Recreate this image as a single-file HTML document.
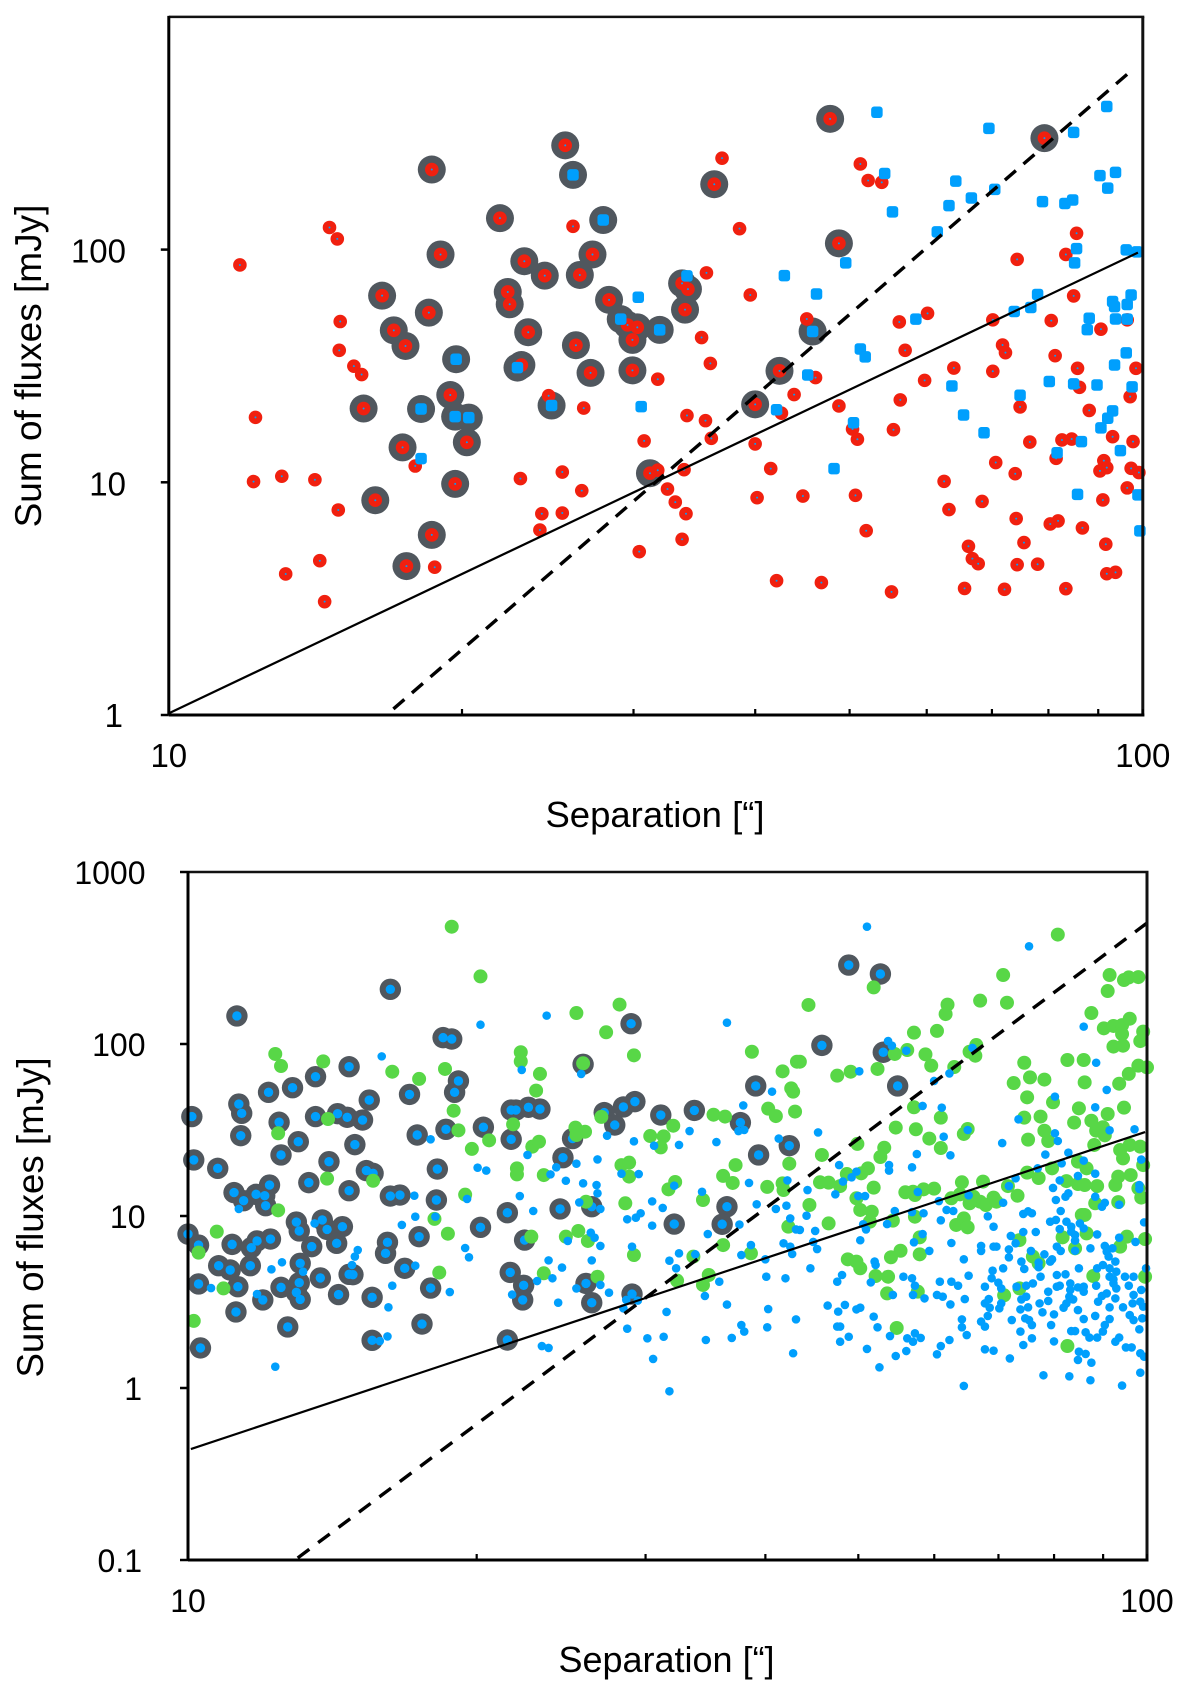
<!DOCTYPE html>
<html lang="en">
<head>
<meta charset="utf-8">
<title>Sum of fluxes versus separation</title>
<style>
html,body{margin:0;padding:0;background:#fff}
svg{display:block}
text{font-family:"Liberation Sans",sans-serif;fill:#000}
</style>
</head>
<body>
<svg id="figure" xmlns="http://www.w3.org/2000/svg" width="1200" height="1692" viewBox="0 0 1200 1692">
<g id="top-chart"></g>
<g id="bottom-chart"></g>
<text x="655" y="827" font-size="36.5" text-anchor="middle">Separation [“]</text>
<text transform="translate(41 366) rotate(-90)" font-size="37" text-anchor="middle">Sum of fluxes [mJy]</text>
<text x="666.5" y="1672" font-size="36" text-anchor="middle">Separation [“]</text>
<text transform="translate(43 1217.5) rotate(-90)" font-size="36.7" text-anchor="middle">Sum of fluxes [mJy]</text>
</svg>
<script>
// All point values are [log10 separation (arcsec), log10 flux sum (mJy)].
const topRingRed=[[1.407,2.448],[1.270,2.344],[1.340,2.135],[1.279,1.979],[1.365,1.950],[1.386,1.888],[1.422,1.891],[1.435,1.979],[1.219,1.802],[1.348,1.818],[1.350,1.765],[1.267,1.729],[1.231,1.653],[1.243,1.586],[1.369,1.645],[1.418,1.589],[1.433,1.470],[1.289,1.375],[1.200,1.317],[1.362,1.504],[1.240,1.150],[1.306,1.172],[1.294,0.993],[1.212,0.923],[1.270,0.774],[1.244,0.640],[1.679,2.562],[1.560,2.281],[1.688,2.027],[1.452,1.784],[1.476,1.612],[1.476,1.481],[1.530,1.742],[1.527,1.855],[1.533,1.830],[1.627,1.479],[1.602,1.335],[1.899,2.479],[1.494,1.039],[1.471,1.676],[1.481,1.666]];
const topRingBlue=[[1.415,2.321],[1.446,2.127],[1.295,1.529],[1.358,1.493],[1.393,1.330],[1.259,1.315],[1.294,1.282],[1.308,1.278],[1.464,1.701],[1.504,1.655],[1.661,1.648]];
const topRed=[[1.073,1.934],[1.165,2.095],[1.173,2.046],[1.176,1.691],[1.175,1.567],[1.190,1.499],[1.198,1.463],[1.089,1.279],[1.415,2.100],[1.390,1.372],[1.426,1.319],[1.087,1.003],[1.116,1.026],[1.150,1.011],[1.174,0.881],[1.155,0.663],[1.120,0.606],[1.160,0.487],[1.273,0.635],[1.253,1.070],[1.361,1.016],[1.404,1.044],[1.424,0.964],[1.383,0.865],[1.404,0.868],[1.381,0.795],[1.568,2.393],[1.586,2.090],[1.597,1.805],[1.552,1.900],[1.547,1.622],[1.556,1.511],[1.502,1.443],[1.710,2.368],[1.718,2.297],[1.732,2.289],[1.779,1.726],[1.750,1.689],[1.756,1.567],[1.655,1.702],[1.664,1.450],[1.642,1.377],[1.688,1.328],[1.629,1.297],[1.532,1.287],[1.551,1.265],[1.751,1.354],[1.776,1.438],[1.806,1.491],[1.846,1.698],[1.846,1.477],[1.856,1.590],[1.859,1.557],[1.871,1.958],[1.929,1.801],[1.906,1.695],[1.910,1.544],[1.933,1.490],[1.935,1.408],[1.957,1.658],[1.984,1.698],[1.993,1.490],[1.987,1.368],[1.945,1.309],[1.874,1.324],[1.932,2.070],[1.921,1.979],[1.488,1.178],[1.557,1.189],[1.602,1.165],[1.618,1.059],[1.604,0.934],[1.651,0.941],[1.705,0.944],[1.716,0.792],[1.512,0.971],[1.520,0.915],[1.531,0.865],[1.527,0.755],[1.483,0.702],[1.529,1.054],[1.502,1.052],[1.702,1.229],[1.707,1.185],[1.744,1.226],[1.884,1.173],[1.917,1.182],[1.927,1.186],[1.911,1.103],[1.969,1.196],[1.990,1.175],[1.849,1.085],[1.869,1.037],[1.796,1.004],[1.801,0.883],[1.835,0.918],[1.870,0.844],[1.905,0.821],[1.913,0.834],[1.938,0.804],[1.878,0.741],[1.821,0.725],[1.825,0.672],[1.831,0.650],[1.871,0.646],[1.892,0.648],[1.817,0.544],[1.858,0.540],[1.921,0.543],[1.962,0.734],[1.963,0.607],[1.972,0.613],[1.959,0.924],[1.984,0.976],[1.988,1.060],[1.996,1.042],[1.960,1.093],[1.963,1.063],[1.956,1.049],[1.624,0.577],[1.670,0.569],[1.742,0.529]];
const topBlue=[[1.727,2.590],[1.842,2.521],[1.929,2.504],[1.963,2.615],[1.735,2.327],[1.808,2.294],[1.824,2.222],[1.848,2.259],[1.801,2.189],[1.743,2.162],[1.789,2.076],[1.897,2.206],[1.920,2.198],[1.928,2.213],[1.956,2.318],[1.972,2.332],[1.964,2.264],[1.932,2.004],[1.930,1.943],[1.983,1.999],[1.994,1.990],[1.695,1.943],[1.632,1.888],[1.665,1.809],[1.532,1.887],[1.482,1.795],[1.767,1.701],[1.892,1.807],[1.868,1.734],[1.885,1.751],[1.988,1.805],[1.969,1.777],[1.971,1.755],[1.984,1.764],[1.945,1.705],[1.943,1.656],[1.972,1.702],[1.984,1.701],[1.710,1.573],[1.715,1.539],[1.983,1.556],[1.971,1.504],[1.656,1.461],[1.804,1.414],[1.904,1.433],[1.929,1.423],[1.953,1.418],[1.989,1.410],[1.874,1.374],[1.485,1.325],[1.624,1.312],[1.816,1.289],[1.969,1.307],[1.964,1.275],[1.703,1.256],[1.683,1.059],[1.837,1.213],[1.937,1.175],[1.912,1.127],[1.933,0.948],[1.977,1.136],[1.995,0.946],[1.997,0.791],[1.957,1.234],[1.259,1.102]];
const topSolidLine=[[1.001,0.009],[1.995,1.987]];
const topDashedLine=[[1.2306,0.026],[1.9869,2.764]];
const topXTicks=[10,20,30,40,50,60,70,80,90,100];
const topXLabels=[[10,"10"],[100,"100"]];
const topYTicks=[1,10,100];
const topYLabels=[[1,"1"],[10,"10"],[100,"100"]];

const bottomRing=[[1.004,1.578],[1.051,2.163],[1.211,2.318],[1.053,1.651],[1.056,1.597],[1.084,1.719],[1.109,1.746],[1.133,1.810],[1.168,1.868],[1.189,1.674],[1.133,1.578],[1.156,1.595],[1.166,1.574],[1.182,1.558],[1.055,1.467],[1.095,1.545],[1.115,1.432],[1.174,1.415],[1.097,1.355],[1.006,1.326],[1.031,1.277],[1.147,1.316],[1.186,1.264],[1.193,1.248],[1.126,1.194],[1.168,1.147],[1.048,1.136],[1.058,1.089],[1.071,1.126],[1.080,1.118],[1.085,1.180],[1.081,1.060],[1.211,1.116],[1.113,0.965],[1.116,0.913],[1.140,0.977],[1.145,0.922],[1.161,0.938],[1.155,0.841],[1.129,0.822],[1.000,0.895],[1.011,0.831],[1.046,0.835],[1.066,0.816],[1.072,0.855],[1.086,0.866],[1.208,0.847],[1.206,0.783],[1.032,0.711],[1.044,0.686],[1.065,0.711],[1.117,0.725],[1.168,0.661],[1.011,0.605],[1.097,0.585],[1.116,0.612],[1.113,0.556],[1.117,0.515],[1.078,0.512],[1.050,0.442],[1.138,0.640],[1.157,0.543],[1.192,0.527],[1.104,0.355],[1.013,0.233],[1.192,0.277],[1.052,0.589],[1.172,0.659],[1.266,2.037],[1.275,2.029],[1.282,1.785],[1.278,1.719],[1.231,1.707],[1.239,1.471],[1.269,1.504],[1.308,1.516],[1.337,1.446],[1.260,1.273],[1.259,1.093],[1.333,1.019],[1.305,0.934],[1.241,0.880],[1.226,0.696],[1.336,0.672],[1.351,0.860],[1.388,1.041],[1.421,1.054],[1.337,1.616],[1.342,1.616],[1.355,1.632],[1.367,1.622],[1.462,2.118],[1.412,1.882],[1.434,1.601],[1.454,1.634],[1.466,1.665],[1.445,1.529],[1.493,1.587],[1.528,1.614],[1.576,1.543],[1.592,1.756],[1.595,1.355],[1.627,1.409],[1.401,1.450],[1.391,1.339],[1.562,1.054],[1.557,0.952],[1.507,0.953],[1.221,1.122],[1.253,0.581],[1.244,0.372],[1.350,0.597],[1.349,0.512],[1.415,0.608],[1.421,0.496],[1.463,0.546],[1.333,0.279],[1.689,2.459],[1.722,2.407],[1.661,1.992],[1.725,1.952],[1.740,1.756]];
const bottomGreen=[[1.091,1.942],[1.097,1.872],[1.141,1.899],[1.213,1.839],[1.146,1.564],[1.094,1.481],[1.145,1.217],[1.193,1.205],[1.094,1.033],[1.030,0.909],[1.011,0.787],[1.037,0.579],[1.006,0.390],[1.275,2.682],[1.305,2.393],[1.405,2.180],[1.450,2.229],[1.436,2.068],[1.465,1.934],[1.588,1.955],[1.635,1.897],[1.347,1.952],[1.347,1.899],[1.367,1.826],[1.363,1.729],[1.268,1.855],[1.241,1.797],[1.277,1.612],[1.339,1.533],[1.282,1.498],[1.314,1.440],[1.296,1.390],[1.359,1.403],[1.366,1.432],[1.404,1.514],[1.414,1.490],[1.405,1.471],[1.431,1.576],[1.412,1.888],[1.548,1.589],[1.560,1.578],[1.506,1.525],[1.482,1.465],[1.496,1.463],[1.493,1.399],[1.620,1.841],[1.629,1.742],[1.631,1.723],[1.605,1.624],[1.613,1.581],[1.633,1.607],[1.627,1.304],[1.571,1.296],[1.558,1.233],[1.568,1.192],[1.604,1.169],[1.620,1.190],[1.621,1.151],[1.452,1.296],[1.460,1.310],[1.460,1.229],[1.343,1.277],[1.343,1.242],[1.371,1.238],[1.508,1.198],[1.501,1.155],[1.289,1.124],[1.415,1.083],[1.456,1.074],[1.537,1.093],[1.257,0.983],[1.271,0.897],[1.358,0.880],[1.407,0.913],[1.394,0.880],[1.417,0.855],[1.465,0.773],[1.558,0.831],[1.527,0.764],[1.587,0.783],[1.626,0.938],[1.262,0.671],[1.371,0.667],[1.427,0.647],[1.510,0.624],[1.543,0.657],[1.537,0.599],[1.907,2.636],[1.850,2.401],[1.961,2.401],[1.976,2.372],[1.981,2.387],[1.991,2.389],[1.959,2.308],[1.715,2.329],[1.647,2.227],[1.792,2.229],[1.790,2.174],[1.826,2.252],[1.854,2.240],[1.942,2.180],[1.757,2.066],[1.781,2.076],[1.955,2.091],[1.965,2.105],[1.974,2.110],[1.982,2.147],[1.974,2.058],[1.996,2.072],[1.993,2.017],[1.965,1.985],[1.975,1.990],[1.822,1.994],[1.815,1.955],[1.821,1.932],[1.750,1.965],[1.737,1.942],[1.769,1.940],[1.775,1.874],[1.799,1.866],[1.719,1.855],[1.691,1.839],[1.677,1.816],[1.638,1.897],[1.917,1.907],[1.934,1.907],[1.872,1.891],[1.878,1.806],[1.893,1.793],[1.861,1.773],[1.935,1.777],[1.971,1.769],[1.981,1.826],[1.991,1.874],[2.000,1.864],[1.875,1.690],[1.902,1.661],[1.757,1.632],[1.929,1.626],[1.976,1.630],[1.785,1.572],[1.872,1.572],[1.889,1.578],[1.959,1.593],[1.942,1.554],[1.924,1.543],[1.738,1.514],[1.759,1.504],[1.773,1.450],[1.809,1.477],[1.813,1.506],[1.893,1.496],[1.897,1.436],[1.876,1.444],[1.954,1.516],[1.947,1.496],[1.956,1.469],[1.785,1.395],[1.698,1.419],[1.726,1.397],[1.722,1.343],[1.661,1.355],[1.945,1.413],[1.972,1.384],[1.982,1.413],[1.993,1.403],[1.975,1.335],[1.996,1.296],[1.709,1.277],[1.702,1.248],[1.687,1.244],[1.659,1.196],[1.668,1.194],[1.680,1.174],[1.715,1.165],[1.928,1.316],[1.937,1.277],[1.901,1.277],[1.875,1.252],[1.887,1.221],[1.916,1.203],[1.928,1.186],[1.935,1.180],[1.948,1.174],[1.967,1.180],[1.970,1.229],[1.983,1.238],[1.991,1.161],[1.994,1.107],[1.946,1.074],[1.970,1.081],[1.807,1.196],[1.829,1.200],[1.855,1.174],[1.865,1.118],[1.840,1.107],[1.819,1.112],[1.826,1.083],[1.815,1.074],[1.832,1.064],[1.843,1.083],[1.796,1.103],[1.805,1.126],[1.748,1.138],[1.756,1.141],[1.758,1.122],[1.767,1.155],[1.778,1.159],[1.697,1.103],[1.701,1.035],[1.713,1.025],[1.711,0.967],[1.758,0.996],[1.735,0.973],[1.668,0.957],[1.648,1.064],[1.801,0.948],[1.809,0.986],[1.813,0.934],[1.932,1.006],[1.935,1.006],[1.867,0.860],[1.912,0.876],[1.937,0.899],[1.763,0.876],[1.972,0.822],[1.979,0.880],[1.998,0.866],[1.925,0.812],[1.763,0.777],[1.743,0.798],[1.733,0.760],[1.688,0.748],[1.697,0.735],[1.701,0.696],[1.717,0.651],[1.730,0.647],[1.881,0.764],[1.887,0.725],[1.944,0.651],[1.998,0.647],[1.729,0.550],[1.761,0.560],[1.851,0.539],[1.867,0.579],[1.739,0.349],[1.917,0.244]];
const bottomBlue=[[1.202,1.928],[1.053,1.041],[1.132,0.957],[1.177,0.802],[1.174,0.764],[1.171,0.715],[1.098,0.731],[1.087,0.690],[1.223,0.948],[1.024,0.581],[1.072,0.546],[1.213,0.595],[1.209,0.469],[1.208,0.300],[1.200,0.273],[1.091,0.124],[1.120,0.676],[1.305,2.112],[1.374,2.165],[1.562,2.124],[1.348,1.849],[1.410,1.826],[1.253,1.446],[1.437,1.467],[1.465,1.434],[1.512,1.413],[1.523,1.494],[1.551,1.430],[1.486,1.409],[1.579,1.643],[1.609,1.723],[1.616,1.450],[1.574,1.494],[1.580,1.500],[1.354,1.355],[1.302,1.281],[1.311,1.264],[1.384,1.283],[1.378,1.242],[1.405,1.304],[1.427,1.329],[1.394,1.205],[1.412,1.190],[1.426,1.180],[1.427,1.132],[1.452,1.246],[1.470,1.244],[1.585,1.192],[1.625,1.207],[1.507,1.176],[1.536,1.141],[1.236,1.118],[1.346,1.116],[1.291,1.099],[1.408,1.079],[1.430,1.041],[1.484,1.085],[1.495,1.047],[1.472,1.016],[1.467,0.990],[1.458,0.981],[1.484,0.944],[1.593,1.068],[1.613,1.041],[1.624,1.060],[1.628,0.986],[1.634,0.922],[1.575,0.950],[1.542,0.895],[1.237,0.996],[1.258,0.996],[1.360,1.029],[1.420,0.903],[1.424,0.874],[1.430,0.826],[1.463,0.822],[1.289,0.814],[1.293,0.760],[1.376,0.742],[1.421,0.742],[1.390,0.700],[1.396,0.855],[1.512,0.783],[1.502,0.740],[1.509,0.696],[1.529,0.777],[1.577,0.773],[1.587,0.831],[1.621,0.841],[1.628,0.822],[1.630,0.779],[1.602,0.748],[1.237,0.711],[1.273,0.558],[1.338,0.543],[1.380,0.638],[1.364,0.622],[1.386,0.496],[1.405,0.579],[1.430,0.599],[1.439,0.554],[1.457,0.512],[1.454,0.463],[1.469,0.508],[1.458,0.345],[1.479,0.289],[1.496,0.298],[1.499,0.442],[1.485,0.169],[1.502,-0.019],[1.369,0.244],[1.376,0.233],[1.554,0.618],[1.539,0.535],[1.562,0.485],[1.540,0.279],[1.567,0.291],[1.577,0.366],[1.580,0.328],[1.603,0.647],[1.623,0.638],[1.605,0.459],[1.604,0.353],[1.634,0.399],[1.631,0.202],[1.708,2.682],[1.877,2.568],[1.934,2.101],[1.947,1.891],[1.730,2.017],[1.734,1.990],[1.749,1.961],[1.818,1.977],[1.794,1.829],[1.778,1.785],[1.700,1.841],[1.958,1.733],[1.904,1.694],[1.946,1.632],[1.766,1.640],[1.786,1.630],[1.866,1.562],[1.987,1.504],[1.961,1.498],[1.813,1.500],[1.904,1.481],[1.907,1.436],[1.849,1.424],[1.788,1.461],[1.657,1.486],[1.760,1.360],[1.795,1.353],[1.894,1.357],[1.918,1.368],[1.994,1.328],[1.679,1.296],[1.731,1.296],[1.731,1.264],[1.755,1.283],[1.697,1.258],[1.692,1.225],[1.683,1.200],[1.911,1.306],[1.934,1.322],[1.886,1.277],[1.863,1.219],[1.946,1.246],[1.928,1.233],[1.909,1.207],[1.902,1.163],[1.856,1.174],[1.992,1.180],[1.992,1.157],[1.646,1.151],[1.675,1.126],[1.699,1.116],[1.706,1.116],[1.761,1.140],[1.814,1.120],[1.946,1.112],[1.918,1.132],[1.915,1.112],[1.905,1.093],[1.956,1.077],[1.953,1.054],[1.971,1.066],[1.850,1.077],[1.783,1.087],[1.737,1.029],[1.755,1.023],[1.767,1.016],[1.791,1.035],[1.798,1.029],[1.910,1.029],[1.871,1.012],[1.876,1.027],[1.880,1.016],[1.834,0.998],[1.785,0.975],[1.645,1.002],[1.704,0.952],[1.729,0.953],[1.707,0.922],[1.840,0.938],[1.899,0.967],[1.905,0.977],[1.916,0.967],[1.909,0.924],[1.921,0.938],[1.921,0.909],[1.930,0.957],[1.934,0.928],[1.997,0.963],[1.654,0.913],[1.638,0.919],[1.871,0.907],[1.884,0.907],[1.948,0.893],[1.858,0.884],[1.863,0.841],[1.925,0.889],[1.925,0.857],[1.766,0.895],[1.701,0.859],[1.757,0.847],[1.796,0.843],[1.652,0.849],[1.656,0.808],[1.971,0.874],[1.988,0.849],[1.827,0.826],[1.827,0.797],[1.840,0.822],[1.843,0.822],[1.856,0.806],[1.856,0.760],[1.773,0.797],[1.809,0.748],[1.879,0.797],[1.893,0.777],[1.906,0.822],[1.910,0.797],[1.925,0.798],[1.941,0.812],[1.956,0.826],[1.964,0.812],[1.958,0.793],[1.960,0.764],[1.967,0.735],[1.901,0.748],[1.899,0.735],[1.869,0.735],[1.887,0.729],[1.887,0.702],[1.716,0.735],[1.717,0.715],[1.649,0.696],[1.850,0.696],[1.872,0.692],[1.929,0.696],[1.948,0.696],[1.954,0.715],[1.961,0.696],[1.968,0.676],[1.999,0.696],[1.839,0.682],[1.682,0.657],[1.746,0.647],[1.755,0.638],[1.814,0.653],[1.838,0.638],[1.889,0.647],[1.906,0.657],[1.915,0.661],[1.986,0.647],[1.977,0.647],[1.961,0.647],[1.965,0.632],[1.677,0.618],[1.667,0.479],[1.685,0.483],[1.678,0.444],[1.697,0.457],[1.701,0.467],[1.715,0.415],[1.719,0.353],[1.677,0.357],[1.680,0.357],[1.689,0.298],[1.680,0.269],[1.712,0.614],[1.758,0.595],[1.735,0.541],[1.756,0.541],[1.768,0.521],[1.784,0.618],[1.796,0.618],[1.803,0.595],[1.831,0.589],[1.845,0.612],[1.848,0.579],[1.781,0.541],[1.787,0.531],[1.795,0.486],[1.810,0.517],[1.835,0.517],[1.831,0.492],[1.836,0.467],[1.848,0.492],[1.846,0.463],[1.834,0.419],[1.807,0.399],[1.807,0.353],[1.812,0.308],[1.827,0.386],[1.831,0.357],[1.859,0.395],[1.868,0.328],[1.880,0.289],[1.871,0.250],[1.831,0.225],[1.840,0.217],[1.857,0.172],[1.794,0.279],[1.785,0.244],[1.781,0.196],[1.732,0.302],[1.708,0.227],[1.750,0.289],[1.756,0.269],[1.758,0.318],[1.764,0.291],[1.749,0.215],[1.738,0.186],[1.721,0.120],[1.809,0.012],[1.892,0.074],[1.919,0.068],[1.941,0.045],[1.974,0.014],[1.993,0.089],[1.993,0.202],[1.997,0.182],[1.942,0.147],[1.928,0.163],[1.936,0.198],[1.929,0.211],[1.903,0.271],[1.921,0.331],[1.925,0.331],[1.936,0.324],[1.940,0.293],[1.948,0.293],[1.954,0.328],[1.956,0.366],[1.961,0.401],[1.934,0.401],[1.946,0.419],[1.900,0.366],[1.903,0.428],[1.891,0.440],[1.888,0.492],[1.897,0.506],[1.876,0.469],[1.868,0.457],[1.873,0.405],[1.877,0.395],[1.880,0.366],[1.913,0.467],[1.916,0.492],[1.923,0.515],[1.928,0.453],[1.949,0.502],[1.961,0.469],[1.953,0.535],[1.958,0.550],[1.967,0.521],[1.975,0.469],[1.985,0.492],[1.996,0.473],[1.995,0.405],[1.986,0.395],[1.982,0.424],[1.992,0.341],[1.967,0.269],[1.971,0.293],[1.978,0.236],[1.984,0.236],[1.869,0.515],[1.874,0.531],[1.864,0.589],[1.874,0.595],[1.881,0.608],[1.897,0.560],[1.906,0.589],[1.909,0.595],[1.920,0.608],[1.920,0.570],[1.919,0.531],[1.928,0.585],[1.934,0.589],[1.934,0.560],[1.947,0.595],[1.965,0.608],[1.968,0.579],[1.981,0.595],[1.994,0.570],[1.986,0.541],[1.993,0.502]];
const bottomSolidLine=[[1.003,-0.355],[1.998,1.488]];
const bottomDashedLine=[[1.1144,-0.988],[1.9997,2.702]];
const bottomXTicks=[10,20,30,40,50,60,70,80,90,100];
const bottomXLabels=[[10,"10"],[100,"100"]];
const bottomYTicks=[0.1,1,10,100,1000];
const bottomYLabels=[[0.1,"0.1"],[1,"1"],[10,"10"],[100,"100"],[1000,"1000"]];

const NS='http://www.w3.org/2000/svg';
const GRAY='#50575e',RED='#f0200f',BLUE='#009ffd',GREEN='#58d747';

// Axis functions: log10 values to pixels.
const topX=d=>168.8+(d-1)*974;
const topY=d=>715-d*232.7;
const bottomX=d=>188+(d-1)*959;
const bottomY=d=>1388-d*172;

function make(parent,tag,attrs,name){
  const el=document.createElementNS(NS,tag);
  for(const k in attrs){el.setAttribute(k,attrs[k]);}
  
  
  parent.appendChild(el);
  return el;
}
function dots(parent,points,sx,sy,r,fill,name){
  points.forEach(p=>{make(parent,'circle',{cx:sx(p[0]),cy:sy(p[1]),r:r,fill:fill},name);});
}
function squares(parent,points,sx,sy,size,fill,name){
  points.forEach(p=>{make(parent,'rect',{x:sx(p[0])-size/2,y:sy(p[1])-size/2,width:size,height:size,rx:3,fill:fill},name);});
}
function trend(parent,pts,sx,sy,width,dash,name){
  const a={x1:sx(pts[0][0]),y1:sy(pts[0][1]),x2:sx(pts[1][0]),y2:sy(pts[1][1]),stroke:'#000','stroke-width':width};
  if(dash){a['stroke-dasharray']=dash;}
  make(parent,'line',a,name);
}
function frame(parent,sx,sy,xTicks,yTicks,xMin,xMax,yMin,yMax,prefix){
  const L=sx(Math.log10(xMin)),R=sx(Math.log10(xMax)),T=sy(Math.log10(yMax)),B=sy(Math.log10(yMin));
  make(parent,'line',{x1:L,y1:T,x2:R+1.5,y2:T,stroke:'#111','stroke-width':2.5},prefix+'-top-border');
  make(parent,'line',{x1:R,y1:T,x2:R,y2:B+1.5,stroke:'#111','stroke-width':3},prefix+'-right-border');
  make(parent,'line',{x1:L,y1:T-1,x2:L,y2:B,stroke:'#000','stroke-width':3},prefix+'-y-axis-line');
  make(parent,'line',{x1:L,y1:B,x2:R+1.5,y2:B,stroke:'#000','stroke-width':3},prefix+'-x-axis-line');
  xTicks.forEach(v=>{const x=sx(Math.log10(v));make(parent,'line',{x1:x,y1:B,x2:x,y2:B-6,stroke:'#000','stroke-width':2.2},prefix+'-x-tick');});
  yTicks.forEach(v=>{const y=sy(Math.log10(v));make(parent,'line',{x1:L-8,y1:y,x2:L,y2:y,stroke:'#000','stroke-width':2.5},prefix+'-y-tick');});
}
function labels(parent,list,fn,size,name){
  list.forEach(item=>{
    const p=fn(item[0]);
    const el=make(parent,'text',{x:p[0],y:p[1],'font-size':size,'text-anchor':p[2]},name);
    el.textContent=item[1];
  });
}

const topGroup=document.getElementById('top-chart');
dots(topGroup,topRingRed,topX,topY,14,GRAY,'top-ring');
dots(topGroup,topRingBlue,topX,topY,14,GRAY,'top-ring');
dots(topGroup,topRed,topX,topY,6.8,RED,'red-source');
dots(topGroup,topRingRed,topX,topY,6.8,RED,'ringed-red-source');
dots(topGroup,topRed,topX,topY,1,BLUE,'red-source-centre');
dots(topGroup,topRingRed,topX,topY,1,BLUE,'ringed-red-source-centre');
squares(topGroup,topBlue,topX,topY,11.5,BLUE,'blue-source');
squares(topGroup,topRingBlue,topX,topY,11.5,BLUE,'ringed-blue-source');
trend(topGroup,topSolidLine,topX,topY,2.2,null,'top-solid-line');
trend(topGroup,topDashedLine,topX,topY,3.4,'14.5 10','top-dashed-line');
frame(topGroup,topX,topY,topXTicks,topYTicks,10,100,1,1000,'top');
labels(topGroup,topXLabels,v=>[topX(Math.log10(v)),767,'middle'],33,'top-x-tick-label');
labels(topGroup,topYLabels,v=>[v===1?123:126,topY(Math.log10(v))+(v===1?12:13),'end'],33,'top-y-tick-label');

const bottomGroup=document.getElementById('bottom-chart');
dots(bottomGroup,bottomRing,bottomX,bottomY,10.7,GRAY,'bottom-ring');
dots(bottomGroup,bottomRing,bottomX,bottomY,4.7,BLUE,'ringed-blue-source');
dots(bottomGroup,bottomGreen,bottomX,bottomY,7,GREEN,'green-source');
dots(bottomGroup,bottomBlue,bottomX,bottomY,4.3,BLUE,'blue-source');
trend(bottomGroup,bottomSolidLine,bottomX,bottomY,2.2,null,'bottom-solid-line');
trend(bottomGroup,bottomDashedLine,bottomX,bottomY,3.4,'14.5 11','bottom-dashed-line');
frame(bottomGroup,bottomX,bottomY,bottomXTicks,bottomYTicks,10,100,0.1,1000,'bottom');
labels(bottomGroup,bottomXLabels,v=>[bottomX(Math.log10(v)),1612,'middle'],32,'bottom-x-tick-label');
labels(bottomGroup,bottomYLabels,v=>[v<=1?142:145.5,bottomY(Math.log10(v))+12,'end'],32,'bottom-y-tick-label');
</script>
</body>
</html>
